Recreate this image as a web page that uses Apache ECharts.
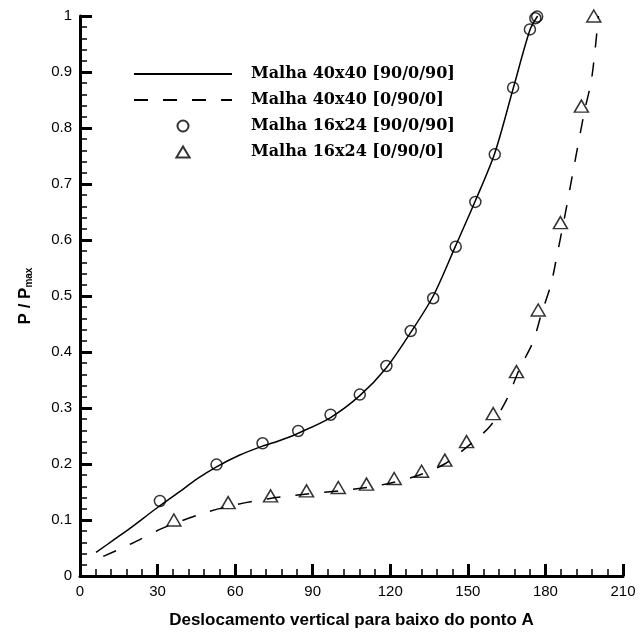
<!DOCTYPE html>
<html>
<head>
<meta charset="utf-8">
<script src="https://cdn.jsdelivr.net/npm/echarts@6/dist/echarts.min.js"></script>
<style>
  html, body { margin: 0; padding: 0; background: #fff; }
  #chart { width: 641px; height: 640px; }
</style>
</head>
<body>
<div id="chart"></div>
<script>
// curve: Malha 40x40 [90/0/90] (solid)
var solidX = [6.2, 12.9, 19.3, 29.6, 38.7, 45.1, 52.8, 61.8, 70.6, 77.3, 84.4, 96.9, 108.2, 118.5, 127.9, 136.6, 145.3, 152.9, 160.4, 167.5, 174, 177];
var solidY = [0.042, 0.064, 0.085, 0.121, 0.151, 0.173, 0.195, 0.216, 0.232, 0.242, 0.255, 0.283, 0.322, 0.372, 0.435, 0.5, 0.59, 0.67, 0.755, 0.87, 0.975, 1.0];

// curve: Malha 40x40 [0/90/0] (dashed)
var dashX = [9, 20, 31.8, 47.7, 60, 73, 87, 100, 111, 121, 131, 141, 149, 158.5, 164.9, 170, 175.2, 178.5, 182.1, 184.5, 188, 191, 195.2, 197.8, 200.2, 200.5];
var dashY = [0.035, 0.058, 0.085, 0.112, 0.127, 0.138, 0.146, 0.152, 0.158, 0.167, 0.18, 0.2, 0.228, 0.267, 0.314, 0.37, 0.418, 0.469, 0.52, 0.573, 0.655, 0.73, 0.832, 0.886, 0.984, 1.0];

// markers: Malha 16x24 [90/0/90] (circles)
var circX = [30.9, 52.8, 70.6, 84.4, 96.9, 108.2, 118.5, 127.9, 136.6, 145.3, 152.9, 160.4, 167.5, 174, 176.1, 176.8];
var circY = [0.134, 0.199, 0.237, 0.259, 0.288, 0.324, 0.375, 0.4375, 0.496, 0.588, 0.668, 0.753, 0.872, 0.976, 0.996, 0.999];

// markers: Malha 16x24 [0/90/0] (triangles)
var triX = [36.3, 57.3, 73.7, 87.6, 99.9, 110.8, 121.5, 132.1, 141.1, 149.5, 159.8, 168.8, 177.2, 185.8, 193.9, 198.7];
var triY = [0.1, 0.131, 0.143, 0.152, 0.158, 0.164, 0.174, 0.187, 0.207, 0.24, 0.29, 0.365, 0.475, 0.631, 0.839, 1.0];

var names = ['Malha 40x40 [90/0/90]', 'Malha 40x40 [0/90/0]', 'Malha 16x24 [90/0/90]', 'Malha 16x24 [0/90/0]'];

var triPath = 'path://M0,10L6,0L12,10Z';

function pairs(xs, ys) {
    var out = [];
    for (var i = 0; i < xs.length; i++) out.push([xs[i], ys[i]]);
    return out;
}

var chart = echarts.init(document.getElementById('chart'));

var axisCommon = {
    axisLine: { show: true, onZero: false, lineStyle: { color: '#000', width: 3 } },
    axisTick: { show: true, inside: true, length: 12, lineStyle: { color: '#000', width: 3 } },
    minorTick: { show: true, splitNumber: 5, length: 7, lineStyle: { color: '#000', width: 1.5 } },
    splitLine: { show: false },
    axisLabel: { color: '#000', fontFamily: 'Liberation Sans, Arial', fontSize: 15, margin: 8 }
};

var option = {
    backgroundColor: '#fff',
    animation: false,
    grid: { left: 80, right: 18, top: 16, bottom: 64 },
    legend: {
        orient: 'vertical',
        left: 128,
        top: 61,
        itemWidth: 98,
        itemHeight: 11,
        itemGap: 10,
        symbolKeepAspect: true,
        data: [
            { name: names[0], itemStyle: { opacity: 0 } },
            { name: names[1], itemStyle: { opacity: 0 } },
            { name: names[2] },
            { name: names[3], icon: triPath }
        ],
        textStyle: {
            color: '#000',
            fontFamily: 'DejaVu Serif',
            fontWeight: 'bold',
            fontSize: 16,
            padding: [0, 0, 0, 14]
        }
    },
    xAxis: Object.assign({}, axisCommon, {
        type: 'value',
        min: 0, max: 210, interval: 30,
        name: 'Deslocamento vertical para baixo do ponto A',
        nameLocation: 'middle',
        nameGap: 36,
        nameTextStyle: { color: '#000', fontFamily: 'Liberation Sans, Arial', fontWeight: 'bold', fontSize: 17 }
    }),
    yAxis: Object.assign({}, axisCommon, {
        type: 'value',
        min: 0, max: 1, interval: 0.1,
        name: '{a|P / P}{b|max}',
        nameLocation: 'middle',
        nameRotate: 90,
        nameGap: 46,
        nameTextStyle: {
            color: '#000',
            rich: {
                a: { fontFamily: 'Liberation Sans, Arial', fontWeight: 'bold', fontSize: 17, color: '#000' },
                b: { fontFamily: 'Liberation Sans, Arial', fontWeight: 'bold', fontSize: 10, color: '#000', padding: [8, 0, 0, 0] }
            }
        },
        axisLabel: Object.assign({}, axisCommon.axisLabel, {
            formatter: function (v) { return v === 0 ? '0' : (v === 1 ? '1' : v.toFixed(1)); }
        })
    }),
    series: [
        {
            name: names[0], type: 'line', smooth: 0.3, symbol: 'none',
            data: pairs(solidX, solidY),
            lineStyle: { color: '#000', width: 1.5 },
            itemStyle: { color: '#000' }
        },
        {
            name: names[1], type: 'line', smooth: 0.3, symbol: 'none',
            data: pairs(dashX, dashY),
            lineStyle: { color: '#000', width: 1.5, type: [14, 15] },
            itemStyle: { color: '#000' }
        },
        {
            name: names[2], type: 'scatter', symbol: 'circle', symbolSize: 11,
            data: pairs(circX, circY),
            itemStyle: { color: 'rgba(255,255,255,0)', borderColor: '#000', borderWidth: 1.5 },
            z: 3
        },
        {
            name: names[3], type: 'scatter', symbol: 'triangle', symbolSize: [14, 12],
            data: pairs(triX, triY),
            itemStyle: { color: 'rgba(255,255,255,0)', borderColor: '#000', borderWidth: 1.5 },
            z: 3
        }
    ]
};

chart.setOption(option);
</script>
</body>
</html>
